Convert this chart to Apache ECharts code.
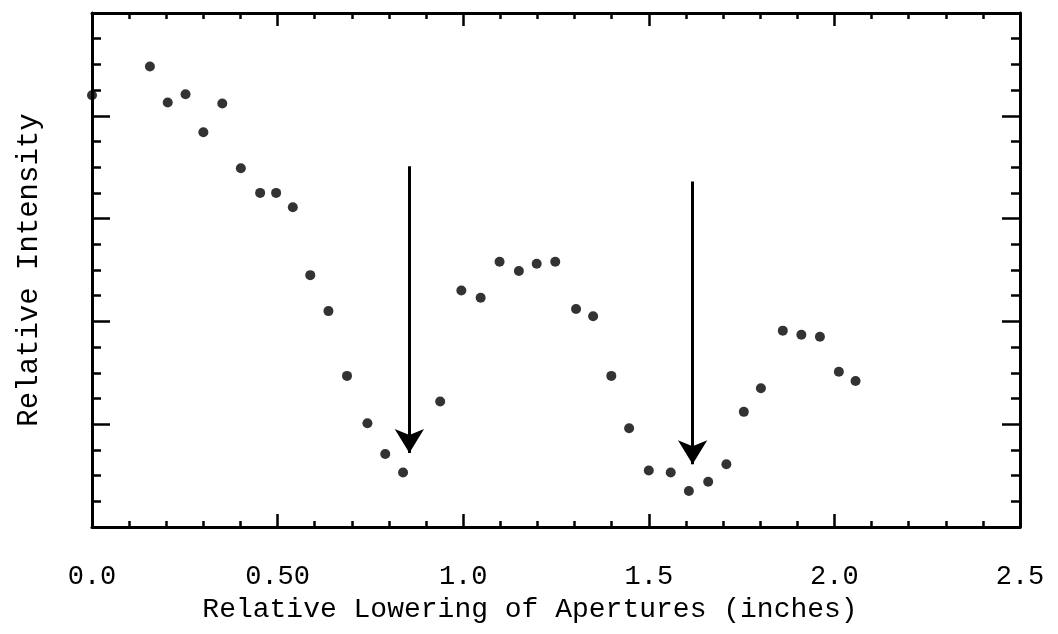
<!DOCTYPE html>
<html>
<head>
<meta charset="utf-8">
<script src="https://cdn.jsdelivr.net/npm/echarts@6/dist/echarts.min.js"></script>
<style>
  html, body { margin: 0; padding: 0; background: #fff; }
  #chart { width: 1058px; height: 634px; }
</style>
</head>
<body>
<div id="chart"></div>
<script>
// ---- data ----
const xValues = [0.000, 0.156, 0.204, 0.252, 0.300, 0.351, 0.401, 0.453, 0.496, 0.541, 0.588,
  0.637, 0.687, 0.742, 0.790, 0.838, 0.938, 0.995, 1.047, 1.098, 1.150,
  1.198, 1.248, 1.304, 1.350, 1.399, 1.447, 1.500, 1.559, 1.608, 1.660,
  1.709, 1.756, 1.802, 1.861, 1.911, 1.961, 2.012, 2.057];
const intensity = [4.20, 4.48, 4.13, 4.21, 3.84, 4.12, 3.49, 3.25, 3.25, 3.11, 2.45,
  2.10, 1.47, 1.01, 0.71, 0.53, 1.22, 2.30, 2.23, 2.58, 2.49,
  2.56, 2.58, 2.12, 2.05, 1.47, 0.96, 0.55, 0.53, 0.35, 0.44,
  0.61, 1.12, 1.35, 1.91, 1.87, 1.85, 1.51, 1.42];
const xTickLabels = ['0.0', '0.50', '1.0', '1.5', '2.0', '2.5'];
const arrowX = [0.855, 1.618];
const arrowTop = [3.51, 3.36];
const arrowTip = [0.72, 0.61];
const xTitle = 'Relative Lowering of Apertures (inches)';
const yTitle = 'Relative Intensity';

const FONT = "'Liberation Mono', 'DejaVu Sans Mono', monospace";
const points = xValues.map((x, i) => [x, intensity[i]]);
const arrowLines = arrowX.map((x, i) => [
  { coord: [x, arrowTop[i]] },
  { coord: [x, arrowTip[i]] }
]);

function xAxisDef(pos, showLabel) {
  return {
    type: 'value', position: pos, min: 0, max: 2.5, interval: 0.5,
    axisLine: { show: true, onZero: false, lineStyle: { color: '#000', width: 3 } },
    axisTick: { show: true, inside: true, length: 13, lineStyle: { color: '#000', width: 2.5 } },
    minorTick: { show: true, splitNumber: 5, length: 6, lineStyle: { color: '#000', width: 2.5 } },
    splitLine: { show: false }, minorSplitLine: { show: false },
    axisLabel: {
      show: showLabel, margin: 36, color: '#000', fontFamily: FONT, fontSize: 27,
      formatter: v => xTickLabels[Math.round(v / 0.5)] || ''
    }
  };
}
function yAxisDef(pos, withName) {
  const a = {
    type: 'value', position: pos, min: 0, max: 5, interval: 1,
    axisLine: { show: true, onZero: false, lineStyle: { color: '#000', width: 3 } },
    axisTick: { show: true, inside: true, length: 18, lineStyle: { color: '#000', width: 2.5 } },
    minorTick: { show: true, splitNumber: 4, length: 9, lineStyle: { color: '#000', width: 2.5 } },
    splitLine: { show: false }, minorSplitLine: { show: false },
    axisLabel: { show: false }
  };
  if (withName) {
    a.name = yTitle;
    a.nameLocation = 'middle';
    a.nameRotate = 90;
    a.nameGap = 48;
    a.nameTextStyle = { color: '#000', fontFamily: FONT, fontSize: 29 };
  }
  return a;
}

const chart = echarts.init(document.getElementById('chart'), null, { renderer: 'canvas' });
chart.setOption({
  animation: false,
  backgroundColor: '#fff',
  grid: { left: 92, right: 38, top: 13, bottom: 107, containLabel: false },
  xAxis: [xAxisDef('bottom', true), xAxisDef('top', false)],
  yAxis: [yAxisDef('left', true), yAxisDef('right', false)],
  graphic: [{
    type: 'text',
    style: {
      text: xTitle, x: 530, y: 610, textAlign: 'center', textVerticalAlign: 'middle',
      font: "28px " + FONT, fill: '#000'
    }
  }],
  series: [{
    type: 'scatter',
    xAxisIndex: 0, yAxisIndex: 0,
    clip: false,
    data: points,
    symbol: 'circle',
    symbolSize: 10,
    itemStyle: { color: '#000' },
    markLine: {
      silent: true,
      symbol: ['none', 'arrow'],
      symbolSize: [22, 24],
      label: { show: false },
      lineStyle: { color: '#000', width: 3, type: 'solid' },
      data: arrowLines
    }
  }]
});
</script>
</body>
</html>
